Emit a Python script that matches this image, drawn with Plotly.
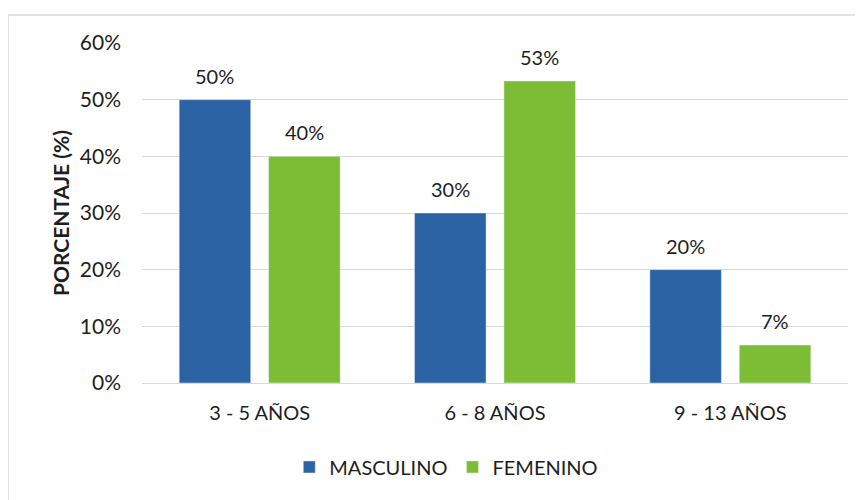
import plotly.graph_objects as go

# data
categorias = ["3 - 5 AÑOS", "6 - 8 AÑOS", "9 - 13 AÑOS"]
masculino = [50.0, 30.0, 20.0]
femenino = [40.0, 53.3, 6.7]
yticks = [0, 10, 20, 30, 40, 50, 60]

azul = "#2A62A3"
verde = "#7CBD35"
texto = "#1E1E1E"
fuente = "Lato, 'Open Sans', sans-serif"

# figure size / margins (page adds an 8px body margin)
W, H = 855, 492
ml, mr, mt, mb = 134, 15, 35, 117
bargap, bargroupgap = 0.24, 0.2
pw, ph = W - ml - mr, H - mt - mb
slot = pw / len(categorias) * (1 - bargap) / 2

fig = go.Figure()
fig.add_trace(go.Bar(name="MASCULINO", x=categorias, y=masculino,
                     marker=dict(color=azul)))
fig.add_trace(go.Bar(name="FEMENINO", x=categorias, y=femenino,
                     marker=dict(color=verde)))

# value labels above the bars
annotations = []
for serie, shift in ((masculino, -slot / 2), (femenino, slot / 2)):
    for cat, v in zip(categorias, serie):
        annotations.append(dict(x=cat, y=v, xref="x", yref="y", text=f"{v:.0f}%",
                                showarrow=False, xshift=shift, yshift=10,
                                yanchor="bottom", font=dict(size=20, color=texto)))

fig.update_layout(
    width=W, height=H,
    margin=dict(l=ml, r=mr, t=mt, b=mb, autoexpand=False),
    plot_bgcolor="white", paper_bgcolor="white",
    font=dict(family=fuente, size=20, color=texto),
    barmode="group", bargap=bargap, bargroupgap=bargroupgap,
    showlegend=True,
    legend=dict(orientation="h", x=0.431, xanchor="center", y=-0.247, yanchor="middle",
                font=dict(size=20), itemwidth=30, traceorder="normal"),
    xaxis=dict(showline=True, linecolor="#D9D9D9", linewidth=1, ticks="",
               ticklabelstandoff=12, tickfont=dict(size=20)),
    yaxis=dict(range=[0, 60], tickvals=yticks, ticktext=[f"{v}%" for v in yticks],
               showgrid=True, gridcolor="#D9D9D9", zeroline=False, ticks="",
               ticklabelstandoff=20, tickfont=dict(size=21),
               title=dict(text="<b>PORCENTAJE (%)</b>", font=dict(size=21), standoff=4)),
    annotations=annotations,
    shapes=[
        # left and top edges of the chart frame
        dict(type="line", xref="paper", yref="paper",
             x0=-ml / pw, x1=-ml / pw, y0=-mb / ph, y1=1 + (mt - 7) / ph,
             line=dict(color="#D9D9D9", width=1.5)),
        dict(type="line", xref="paper", yref="paper",
             x0=-ml / pw, x1=1 + mr / pw, y0=1 + (mt - 7) / ph, y1=1 + (mt - 7) / ph,
             line=dict(color="#D9D9D9", width=1.5)),
    ],
)

fig.write_html("out.html")
